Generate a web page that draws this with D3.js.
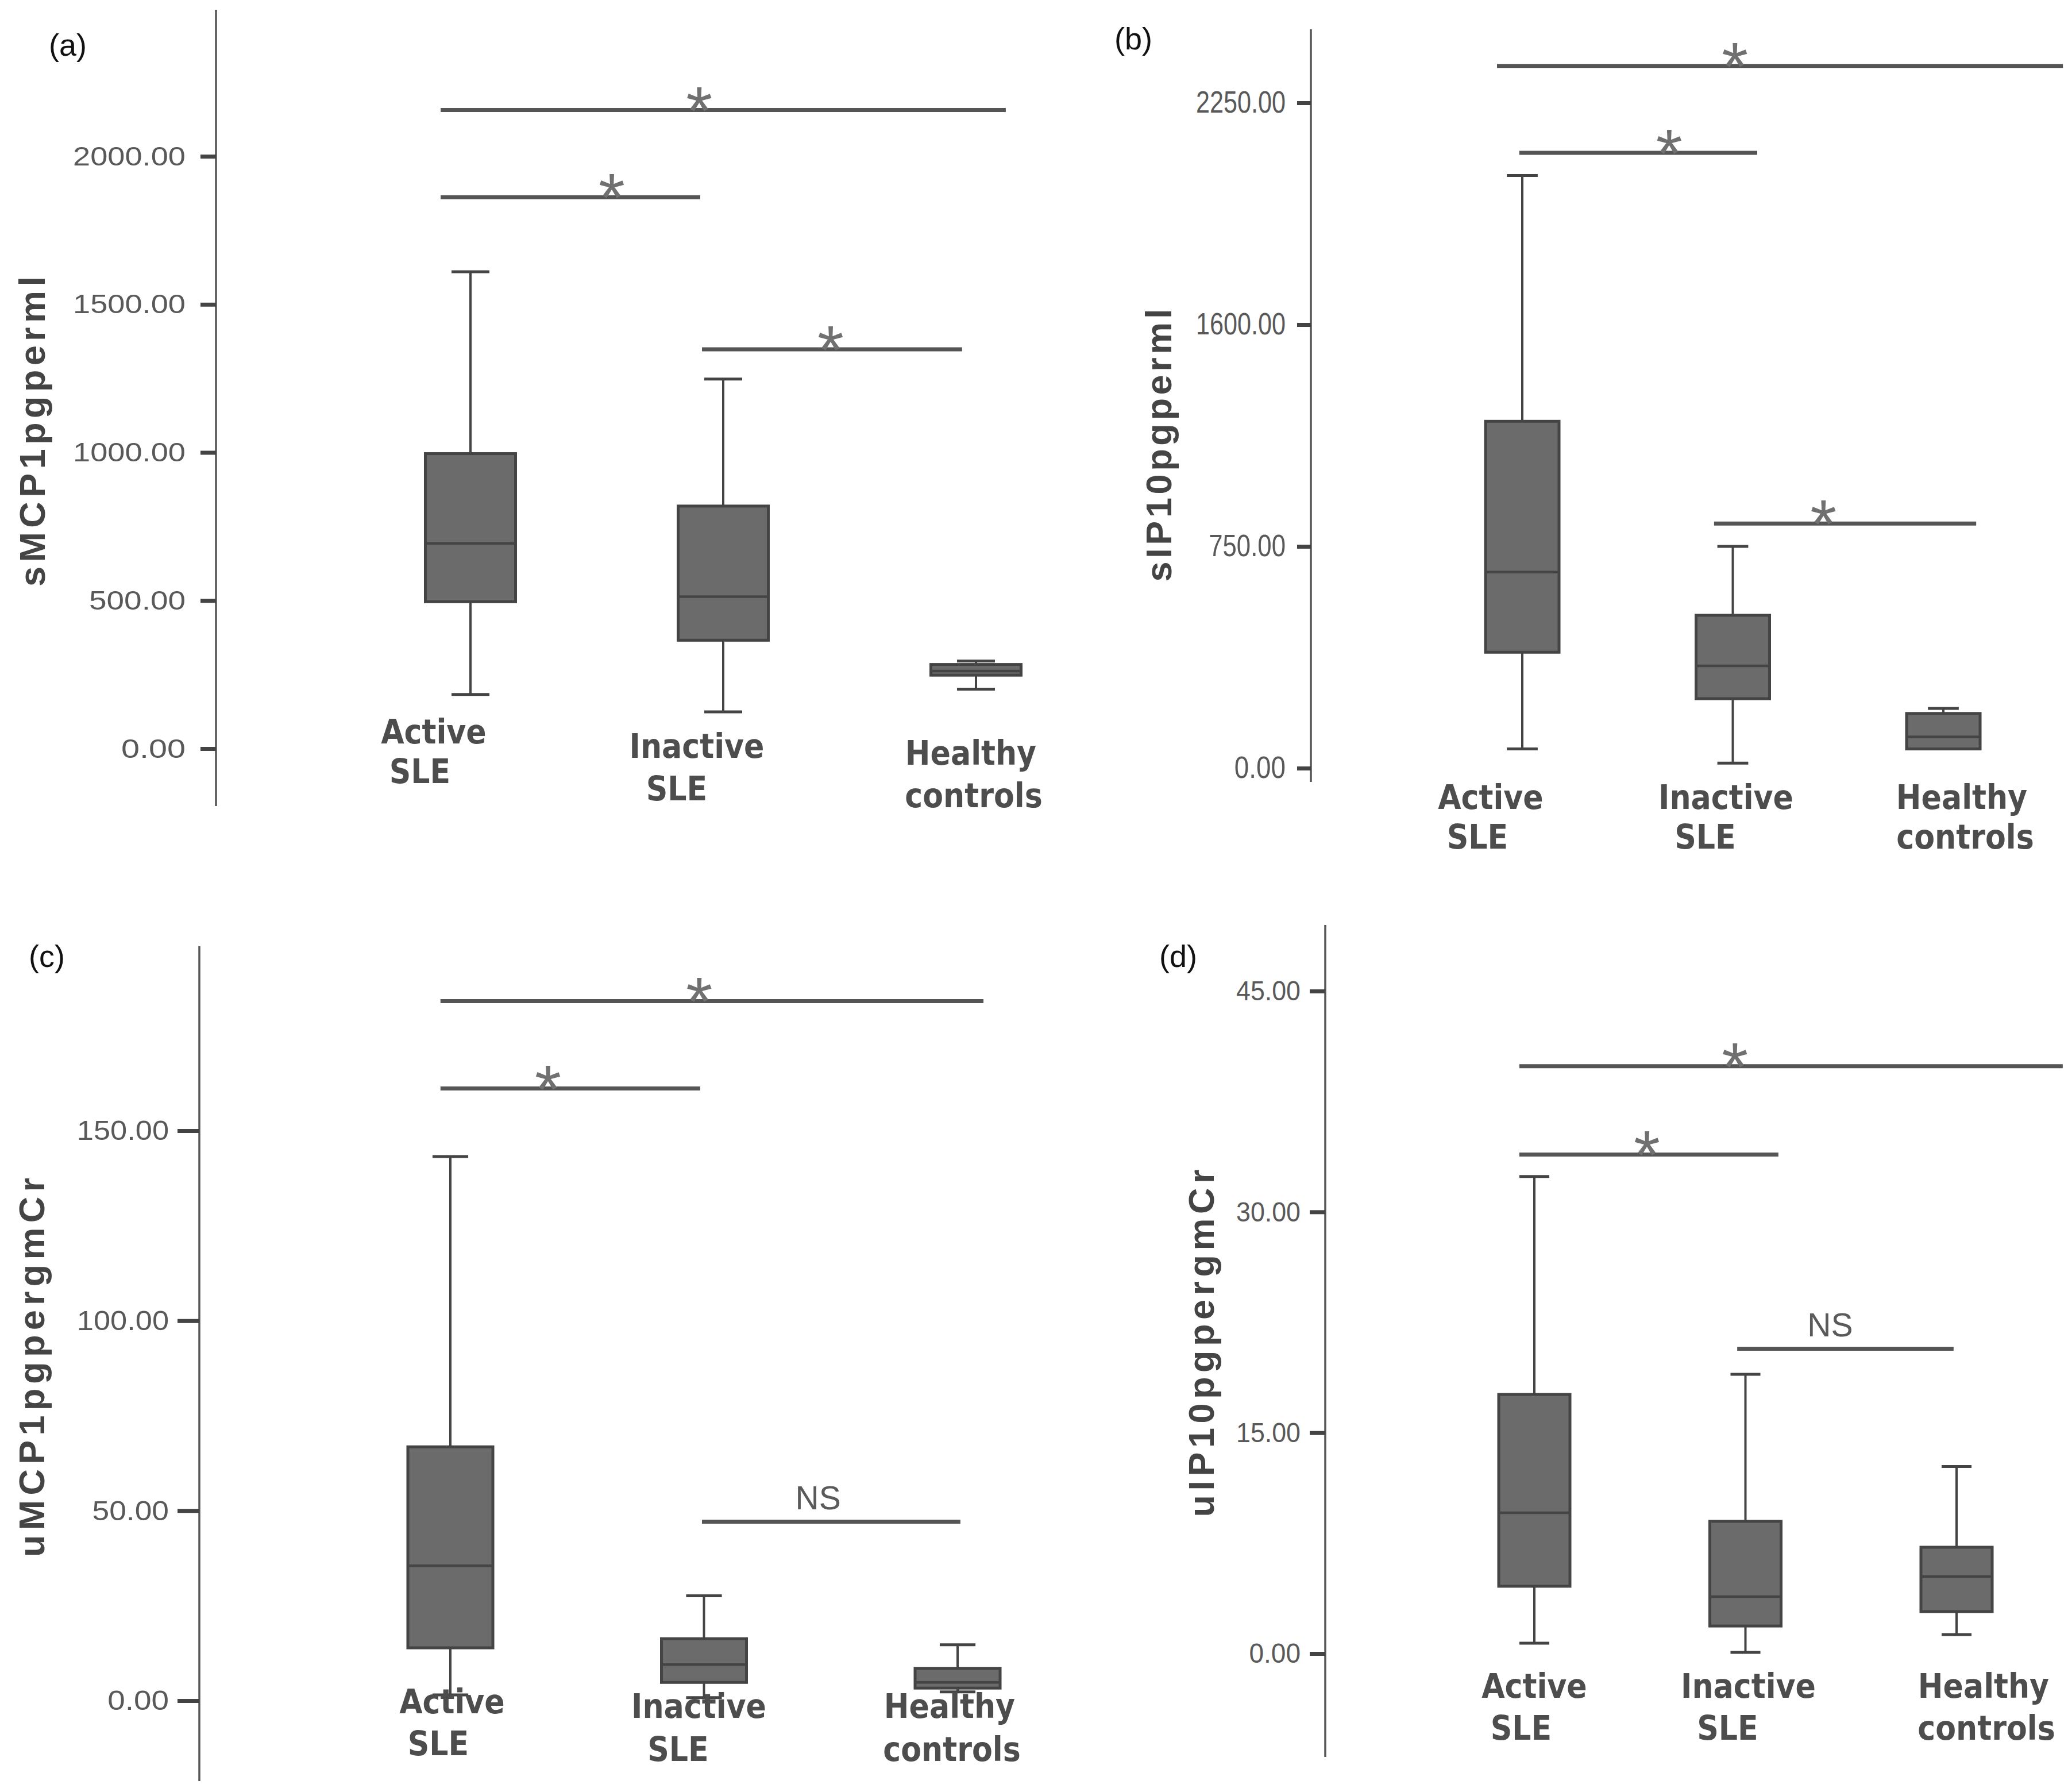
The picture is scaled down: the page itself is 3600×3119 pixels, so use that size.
<!DOCTYPE html>
<html><head><meta charset="utf-8">
<script src="https://cdn.jsdelivr.net/npm/d3@7"></script>
<style>body{margin:0;background:#fff} svg{display:block}</style>
</head><body>
<script>
// ---------- DATA ----------
const categories = ["Active SLE", "Inactive SLE", "Healthy controls"];
const categoryLines = [["Active", "SLE"], ["Inactive", "SLE"], ["Healthy", "controls"]];
const panelLetters = ["(a)", "(b)", "(c)", "(d)"];
const yTitles = ["sMCP1pgperml", "sIP10pgperml", "uMCP1pgpergmCr", "uIP10pgpergmCr"];

const tickValuesA = [0, 500, 1000, 1500, 2000];
const tickLabelsA = ["0.00", "500.00", "1000.00", "1500.00", "2000.00"];
const tickValuesB = [0, 750, 1500, 2250];
const tickLabelsB = ["0.00", "750.00", "1600.00", "2250.00"];
const tickValuesC = [0, 50, 100, 150];
const tickLabelsC = ["0.00", "50.00", "100.00", "150.00"];
const tickValuesD = [0, 15, 30, 45];
const tickLabelsD = ["0.00", "15.00", "30.00", "45.00"];

// box stats per category: [lower whisker, Q1, median, Q3, upper whisker]
const statsA = [[183, 496, 693, 996, 1610], [124, 366, 513, 819, 1248], [201, 248, 262, 284, 296]];
const statsB = [[65, 392, 663, 1173, 2004], [17, 235, 346, 517, 750], [65, 65, 106, 185, 202]];
const statsC = [[1.5, 13.9, 35.5, 66.8, 143.2], [0.8, 4.8, 9.5, 16.3, 27.6], [2.3, 3.3, 4.8, 8.5, 14.7]];
const statsD = [[0.7, 4.57, 9.56, 17.6, 32.4], [0.08, 1.87, 3.86, 8.98, 18.97], [1.29, 2.85, 5.23, 7.22, 12.7]];

// significance bars: [from (category units), to, value, label, label position (category units)]
const bracketsA = [[0.882, 3.118, 2156, "*", 1.905], [0.882, 1.909, 1862, "*", 1.559], [1.916, 2.945, 1348, "*", 2.425]];
const bracketsB = [[0.880, 3.568, 2375, "*", 2.010], [0.986, 2.116, 2081, "*", 1.698], [1.911, 3.156, 827, "*", 2.430]];
const bracketsC = [[0.961, 3.102, 184.1, "*", 1.981], [0.961, 1.985, 161.1, "*", 1.385], [1.992, 3.011, 47.1, "NS", 2.450]];
const bracketsD = [[0.929, 3.503, 39.9, "*", 1.950], [0.929, 2.156, 33.9, "*", 1.533], [1.961, 2.986, 20.7, "NS", 2.401]];

// ---------- LAYOUT (positions / styles) ----------
const layout = [
  {axisX: 376, y0: 1303, yTop: 272, axisTop: 17, axisBottom: 1403, c1: 819, c3: 1699, boxW: 157,
   tick: 27, pad: 26, tfs: 47, tcw: 28, title: [61, 751], titleLen: 540, letter: [85, 97],
   labels: [[-64, -9, -88, 60], [-46, 16, -81, 90], [-9, 28, -4, 102]]},
  {axisX: 2282, y0: 1337, yTop: 179, axisTop: 51, axisBottom: 1361, c1: 2650, c3: 3383, boxW: 128,
   tick: 24, pad: 20, tfs: 53, tcw: 22.3, title: [2022, 775], titleLen: 475, letter: [1940, 86],
   labels: [[-55, 71, -78, 140], [-12, 71, -48, 140], [32, 71, 38, 140]]},
  {axisX: 347, y0: 2960, yTop: 1968, axisTop: 1647, axisBottom: 3100, c1: 784, c3: 1667, boxW: 148,
   tick: 38, pad: 15, tfs: 49, tcw: 26.7, title: [60, 2380], titleLen: 660, letter: [50, 1683],
   labels: [[3, 22, -21, 95], [-9, 30, -45, 105], [-14, 30, -10, 105]]},
  {axisX: 2307, y0: 2878, yTop: 1725, axisTop: 1610, axisBottom: 3058, c1: 2671, c3: 3406, boxW: 124,
   tick: 27, pad: 16, tfs: 49, tcw: 22.4, title: [2096, 2338], titleLen: 605, letter: [2018, 1683],
   labels: [[0, 77, -23, 150], [5, 77, -31, 150], [47, 77, 52, 150]]}
];

const panels = [
  {ticks: tickValuesA, labels: tickLabelsA, stats: statsA, brackets: bracketsA},
  {ticks: tickValuesB, labels: tickLabelsB, stats: statsB, brackets: bracketsB},
  {ticks: tickValuesC, labels: tickLabelsC, stats: statsC, brackets: bracketsC},
  {ticks: tickValuesD, labels: tickLabelsD, stats: statsD, brackets: bracketsD}
];

const W = 3600, H = 3119;
const BOX_FILL = "#6b6b6b", DARK = "#444", MID = "#555";

const svg = d3.select("body").append("svg").attr("width", W).attr("height", H)
  .attr("viewBox", `0 0 ${W} ${H}`);
svg.append("rect").attr("width", W).attr("height", H).attr("fill", "#fff");

panels.forEach((p, i) => {
  const L = layout[i];
  const g = svg.append("g");
  const maxT = p.ticks[p.ticks.length - 1];
  const y = d3.scaleLinear().domain([0, maxT]).range([L.y0, L.yTop]);
  const x = d3.scaleLinear().domain([1, 3]).range([L.c1, L.c3]);

  // panel letter
  g.append("text").attr("x", L.letter[0]).attr("y", L.letter[1])
    .attr("font-family", "'Liberation Sans', Arial, sans-serif").attr("font-size", 54)
    .attr("fill", "#111").text(panelLetters[i]);

  // y axis line
  g.append("line").attr("x1", L.axisX).attr("x2", L.axisX)
    .attr("y1", L.axisTop).attr("y2", L.axisBottom)
    .attr("stroke", MID).attr("stroke-width", 3.5);

  // ticks
  const axis = d3.axisLeft(y).tickValues(p.ticks)
    .tickFormat((d, k) => p.labels[k]).tickSize(L.tick).tickPadding(L.pad);
  const ag = g.append("g").attr("transform", `translate(${L.axisX},0)`).call(axis);
  ag.select(".domain").remove();
  ag.selectAll(".tick line").attr("stroke", DARK).attr("stroke-width", 7);
  ag.selectAll(".tick text")
    .attr("font-family", "'Liberation Sans', Arial, sans-serif")
    .attr("font-size", L.tfs).attr("fill", "#595959")
    .attr("textLength", (d, k) => p.labels[k].length * L.tcw)
    .attr("lengthAdjust", "spacingAndGlyphs");

  // y title
  g.append("text")
    .attr("transform", `translate(${L.title[0] + 17},${L.title[1]}) rotate(-90)`)
    .attr("text-anchor", "middle")
    .attr("font-family", "'Liberation Sans', Arial, sans-serif")
    .attr("font-weight", "bold").attr("font-size", 63).attr("fill", DARK)
    .attr("textLength", L.titleLen).attr("lengthAdjust", "spacing")
    .text(yTitles[i]);

  // boxes
  const bw = L.boxW, cw = bw * 0.42;
  p.stats.forEach((s, k) => {
    const cx = x(k + 1);
    const [lo, q1, med, q3, hi] = s;
    const bg = g.append("g");
    bg.append("line").attr("x1", cx).attr("x2", cx).attr("y1", y(q3)).attr("y2", y(hi))
      .attr("stroke", DARK).attr("stroke-width", 4);
    bg.append("line").attr("x1", cx).attr("x2", cx).attr("y1", y(q1)).attr("y2", y(lo))
      .attr("stroke", DARK).attr("stroke-width", 4);
    bg.append("line").attr("x1", cx - cw / 2).attr("x2", cx + cw / 2).attr("y1", y(hi)).attr("y2", y(hi))
      .attr("stroke", DARK).attr("stroke-width", 5);
    bg.append("line").attr("x1", cx - cw / 2).attr("x2", cx + cw / 2).attr("y1", y(lo)).attr("y2", y(lo))
      .attr("stroke", DARK).attr("stroke-width", 5);
    bg.append("rect").attr("x", cx - bw / 2).attr("width", bw)
      .attr("y", y(q3)).attr("height", Math.max(1, y(q1) - y(q3)))
      .attr("fill", BOX_FILL).attr("stroke", DARK).attr("stroke-width", 5);
    bg.append("line").attr("x1", cx - bw / 2).attr("x2", cx + bw / 2).attr("y1", y(med)).attr("y2", y(med))
      .attr("stroke", DARK).attr("stroke-width", 4.5);
  });

  // significance bars
  p.brackets.forEach(b => {
    const [from, to, v, lab, at] = b;
    const yy = y(v);
    g.append("line").attr("x1", x(from)).attr("x2", x(to)).attr("y1", yy).attr("y2", yy)
      .attr("stroke", MID).attr("stroke-width", 7);
    if (lab === "*") {
      g.append("text").attr("x", x(at)).attr("y", yy + 42)
        .attr("text-anchor", "middle")
        .attr("font-family", "'Liberation Sans', Arial, sans-serif")
        .attr("font-size", 118).attr("fill", "#707070").text(lab);
    } else {
      g.append("text").attr("x", x(at)).attr("y", yy - 22)
        .attr("text-anchor", "middle")
        .attr("font-family", "'Liberation Sans', Arial, sans-serif")
        .attr("font-size", 57).attr("fill", "#5a5a5a").text(lab);
    }
  });

  // category labels
  categoryLines.forEach((lines, k) => {
    const cx = x(k + 1), off = L.labels[k];
    const y0 = y(0);
    [0, 1].forEach(j => {
      g.append("text").attr("x", cx + off[j * 2]).attr("y", y0 + off[j * 2 + 1])
        .attr("text-anchor", "middle")
        .attr("font-family", "'DejaVu Sans Condensed', 'DejaVu Sans', sans-serif")
        .style("font-stretch", "condensed")
        .attr("font-weight", "bold").attr("font-size", 58).attr("fill", "#4d4d4d")
        .text(lines[j]);
    });
  });
});
</script>
</body></html>
